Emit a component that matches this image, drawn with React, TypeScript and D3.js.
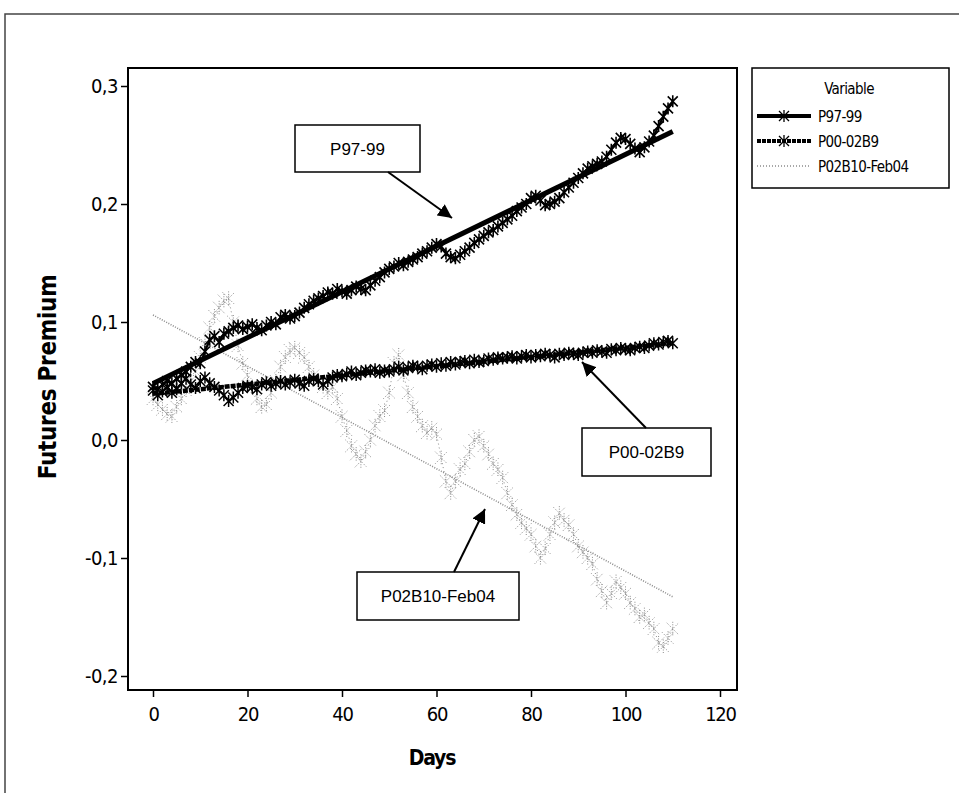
import React, { useEffect, useRef } from "react";
import * as d3 from "d3";

// Days 0..110, one reading per day
const p9799 = [
  0.045, 0.043, 0.047, 0.05, 0.048, 0.052, 0.055, 0.058, 0.062, 0.066,
  0.065, 0.075, 0.085, 0.088, 0.083, 0.09, 0.092, 0.095, 0.097, 0.094,
  0.096, 0.098, 0.095, 0.093, 0.097, 0.1, 0.098, 0.104, 0.106, 0.103,
  0.105, 0.108, 0.112, 0.115, 0.118, 0.12, 0.122, 0.125, 0.124, 0.128,
  0.126, 0.124, 0.127, 0.13, 0.128, 0.127, 0.131, 0.135, 0.138, 0.142,
  0.145, 0.147, 0.15, 0.148, 0.151, 0.153, 0.155, 0.158, 0.16, 0.163,
  0.166, 0.164, 0.158, 0.155, 0.154, 0.157, 0.16, 0.163, 0.167, 0.17,
  0.173, 0.176, 0.178, 0.181, 0.184, 0.187, 0.19, 0.194, 0.197, 0.2,
  0.205, 0.207, 0.203, 0.199, 0.2, 0.202, 0.205, 0.21, 0.214, 0.218,
  0.222, 0.226, 0.23, 0.232, 0.234, 0.236, 0.24, 0.246, 0.252, 0.256,
  0.255, 0.251, 0.247, 0.244, 0.248, 0.253, 0.258, 0.266, 0.274, 0.281,
  0.287,
];

const p0002b9 = [
  0.042, 0.038, 0.041, 0.045, 0.04, 0.043, 0.048, 0.052, 0.047, 0.044,
  0.05, 0.053, 0.048, 0.045, 0.042, 0.038, 0.033, 0.036, 0.04, 0.044,
  0.046, 0.045, 0.043, 0.047, 0.049, 0.046, 0.048, 0.05, 0.047, 0.049,
  0.051, 0.048, 0.046, 0.05, 0.052, 0.05, 0.047, 0.05, 0.053, 0.055,
  0.054, 0.056, 0.058, 0.055, 0.057, 0.059, 0.058, 0.06, 0.057, 0.059,
  0.058, 0.06, 0.062, 0.059, 0.061, 0.063, 0.062, 0.06, 0.063, 0.064,
  0.062, 0.065, 0.063, 0.066, 0.064, 0.066, 0.067, 0.065, 0.068, 0.066,
  0.067, 0.069, 0.068, 0.07, 0.069, 0.07, 0.071, 0.069, 0.071, 0.072,
  0.07, 0.072, 0.071, 0.073, 0.072, 0.07, 0.073, 0.072, 0.074, 0.073,
  0.072, 0.074, 0.075, 0.074, 0.076, 0.075, 0.074, 0.077, 0.076, 0.078,
  0.077, 0.076, 0.078, 0.079, 0.078, 0.08, 0.082, 0.081, 0.083, 0.084,
  0.082,
];

const p02b10 = [
  0.035, 0.03, 0.026, 0.022, 0.02, 0.028, 0.035, 0.042, 0.05, 0.058,
  0.07, 0.082, 0.095, 0.105, 0.112, 0.118, 0.12, 0.1, 0.08, 0.065,
  0.055, 0.045, 0.035, 0.028, 0.03, 0.04, 0.05, 0.062, 0.07, 0.076,
  0.078, 0.074, 0.07, 0.062, 0.055, 0.05, 0.045, 0.04, 0.045, 0.035,
  0.02, 0.008, -0.005, -0.012, -0.018, -0.01, 0.0, 0.012, 0.02, 0.025,
  0.04, 0.065, 0.072, 0.055, 0.04, 0.028, 0.02, 0.012, 0.006, 0.01,
  0.005, -0.015, -0.035, -0.045, -0.035, -0.025, -0.02, -0.01, 0.0, 0.003,
  -0.005, -0.012, -0.02, -0.025, -0.032, -0.045, -0.055, -0.063, -0.07, -0.075,
  -0.08, -0.09, -0.1, -0.092, -0.08, -0.07, -0.062, -0.068, -0.072, -0.08,
  -0.09, -0.095, -0.1, -0.105, -0.118, -0.128, -0.138, -0.13, -0.12, -0.125,
  -0.13, -0.138, -0.143, -0.15, -0.148, -0.155, -0.16, -0.172, -0.175, -0.168,
  -0.16,
];

const seriesNames = ["P97-99", "P00-02B9", "P02B10-Feb04"];
const xTicks = [0, 20, 40, 60, 80, 100, 120];
const yTicks = [-0.2, -0.1, 0.0, 0.1, 0.2, 0.3];

const W = 959;
const H = 793;
const frame = { left: 128, top: 68, right: 737, bottom: 690 };
const condensed = "'DejaVu Sans Condensed', 'DejaVu Sans', sans-serif";
const arial = "'Liberation Sans', Arial, sans-serif";

// least squares trend line for a daily series
function linearFit(values: number[]) {
  const xs = values.map((_, i) => i);
  const mx = d3.mean(xs) as number;
  const my = d3.mean(values) as number;
  let num = 0;
  let den = 0;
  xs.forEach((x, i) => {
    num += (x - mx) * (values[i] - my);
    den += (x - mx) * (x - mx);
  });
  const b = num / den;
  const a = my - b * mx;
  return [0, xs.length - 1].map((x) => [x, a + b * x] as [number, number]);
}

const App = () => {
  const svgRef = useRef<SVGSVGElement>(null);

  useEffect(() => {
    const svg = d3.select(svgRef.current);
    svg.selectAll("*").remove();

    const x = d3.scaleLinear().domain([0, 120]).range([153, 720]);
    const y = d3.scaleLinear().domain([-0.2, 0.3]).range([676, 86]);
    const fmt = (v: number) => d3.format(".1f")(v).replace(".", ",").replace("\u2212", "-");

    // outer page frame
    svg
      .append("rect")
      .attr("x", 5)
      .attr("y", 14)
      .attr("width", W + 20)
      .attr("height", H + 20)
      .attr("fill", "none")
      .attr("stroke", "#444")
      .attr("stroke-width", 1.5);

    const line = d3
      .line<number>()
      .x((_, i) => x(i))
      .y((d) => y(d));
    const trend = d3
      .line<[number, number]>()
      .x((d) => x(d[0]))
      .y((d) => y(d[1]));

    const styles = [
      { data: p9799, color: "#000", width: 2.2, dash: null, trendW: 5, trendDash: null, mark: 1.6, markDash: null, r: 5 },
      { data: p0002b9, color: "#000", width: 2.2, dash: "3,1", trendW: 4.5, trendDash: "5,1", mark: 1.5, markDash: null, r: 5 },
      { data: p02b10, color: "#8c8c8c", width: 1, dash: "1,3", trendW: 1.6, trendDash: "1,1.5", mark: 1, markDash: "1,1.5", r: 6 },
    ];

    const plot = svg.append("g");

    // draw in reverse so the black series sit on top
    [...styles].reverse().forEach((s) => {
      const g = plot.append("g");
      g.append("path")
        .datum(s.data)
        .attr("d", line)
        .attr("fill", "none")
        .attr("stroke", s.color)
        .attr("stroke-width", s.width)
        .attr("stroke-dasharray", s.dash);

      const r = s.r;
      g.selectAll("path.mark")
        .data(s.data)
        .join("path")
        .attr("class", "mark")
        .attr("d", (d, i) => {
          const cx = x(i);
          const cy = y(d);
          return `M${cx - r},${cy - r}L${cx + r},${cy + r}M${cx - r},${cy + r}L${cx + r},${cy - r}M${cx},${cy - r - 1}L${cx},${cy + r + 1}`;
        })
        .attr("fill", "none")
        .attr("stroke", s.color)
        .attr("stroke-width", s.mark)
        .attr("stroke-dasharray", s.markDash);

      g.append("path")
        .datum(linearFit(s.data))
        .attr("d", trend)
        .attr("fill", "none")
        .attr("stroke", s.color)
        .attr("stroke-width", s.trendW)
        .attr("stroke-dasharray", s.trendDash);
    });

    // plot frame
    svg
      .append("rect")
      .attr("x", frame.left)
      .attr("y", frame.top)
      .attr("width", frame.right - frame.left)
      .attr("height", frame.bottom - frame.top)
      .attr("fill", "none")
      .attr("stroke", "#000")
      .attr("stroke-width", 2);

    // y axis
    const yAxis = svg
      .append("g")
      .attr("transform", `translate(${frame.left},0)`)
      .call(d3.axisLeft(y).tickValues(yTicks).tickFormat(fmt as any).tickSize(7).tickPadding(3));
    yAxis.select(".domain").remove();
    yAxis.selectAll("line").attr("stroke", "#000").attr("stroke-width", 1.5);
    yAxis
      .selectAll("text")
      .attr("font-family", condensed)
      .attr("font-size", 20)
      .attr("letter-spacing", -0.5)
      .attr("fill", "#000");

    // x axis
    const xAxis = svg
      .append("g")
      .attr("transform", `translate(0,${frame.bottom})`)
      .call(d3.axisBottom(x).tickValues(xTicks).tickFormat(d3.format("d") as any).tickSize(7).tickPadding(10));
    xAxis.select(".domain").remove();
    xAxis.selectAll("line").attr("stroke", "#000").attr("stroke-width", 1.5);
    xAxis
      .selectAll("text")
      .attr("font-family", condensed)
      .attr("font-size", 20)
      .attr("letter-spacing", -1.2)
      .attr("fill", "#000");

    // axis titles
    svg
      .append("text")
      .attr("x", 432)
      .attr("y", 765)
      .attr("text-anchor", "middle")
      .attr("font-family", condensed)
      .attr("font-weight", "bold")
      .attr("font-size", 21)
      .attr("letter-spacing", -1.2)
      .text("Days");
    svg
      .append("text")
      .attr("transform", `translate(56,377) rotate(-90)`)
      .attr("text-anchor", "middle")
      .attr("font-family", condensed)
      .attr("font-weight", "bold")
      .attr("font-size", 24)
      .attr("letter-spacing", -0.3)
      .text("Futures Premium");

    // legend
    const leg = svg.append("g");
    leg
      .append("rect")
      .attr("x", 752)
      .attr("y", 68)
      .attr("width", 197)
      .attr("height", 120)
      .attr("fill", "#fff")
      .attr("stroke", "#000")
      .attr("stroke-width", 1.5);
    leg
      .append("text")
      .attr("x", 849)
      .attr("y", 94)
      .attr("text-anchor", "middle")
      .attr("font-family", condensed)
      .attr("font-size", 15)
      .attr("letter-spacing", -0.6)
      .text("Variable");
    seriesNames.forEach((name, i) => {
      const s = styles[i];
      const ly = 116 + i * 25;
      leg
        .append("line")
        .attr("x1", 757)
        .attr("x2", 811)
        .attr("y1", ly)
        .attr("y2", ly)
        .attr("stroke", s.color)
        .attr("stroke-width", i === 2 ? 1.4 : 4)
        .attr("stroke-dasharray", i === 0 ? null : i === 1 ? "4,1" : "1,2");
      if (i < 2) {
        leg
          .append("path")
          .attr("d", `M779,${ly - 5}L789,${ly + 5}M779,${ly + 5}L789,${ly - 5}M784,${ly - 6}L784,${ly + 6}`)
          .attr("stroke", "#000")
          .attr("stroke-width", 1.3);
      }
      leg
        .append("text")
        .attr("x", 818)
        .attr("y", ly + 6)
        .attr("font-family", condensed)
        .attr("font-size", 15)
        .attr("letter-spacing", -0.6)
        .text(name);
    });

    // annotations: box, label, arrow
    svg
      .append("defs")
      .append("marker")
      .attr("id", "arrowhead")
      .attr("viewBox", "0 0 10 10")
      .attr("refX", 10)
      .attr("refY", 5)
      .attr("markerWidth", 7)
      .attr("markerHeight", 7)
      .attr("markerUnits", "strokeWidth")
      .attr("orient", "auto")
      .append("path")
      .attr("d", "M0,0L10,5L0,10Z")
      .attr("fill", "#000");

    const notes = [
      { label: seriesNames[0], box: [295, 125, 125, 47], from: [388, 172], to: [452, 218] },
      { label: seriesNames[1], box: [582, 428, 129, 48], from: [646, 428], to: [582, 362] },
      { label: seriesNames[2], box: [357, 572, 162, 48], from: [454, 572], to: [485, 509] },
    ];
    notes.forEach((n) => {
      const [bx, by, bw, bh] = n.box;
      svg
        .append("rect")
        .attr("x", bx)
        .attr("y", by)
        .attr("width", bw)
        .attr("height", bh)
        .attr("fill", "#fff")
        .attr("stroke", "#000")
        .attr("stroke-width", 1.5);
      svg
        .append("text")
        .attr("x", bx + bw / 2)
        .attr("y", by + bh / 2 + 6)
        .attr("text-anchor", "middle")
        .attr("font-family", arial)
        .attr("font-size", 17)
        .text(n.label);
      svg
        .append("line")
        .attr("x1", n.from[0])
        .attr("y1", n.from[1])
        .attr("x2", n.to[0])
        .attr("y2", n.to[1])
        .attr("stroke", "#000")
        .attr("stroke-width", 2)
        .attr("marker-end", "url(#arrowhead)");
    });
  }, []);

  return (
    <div style={{ position: "fixed", left: 0, top: 0 }}>
      <svg ref={svgRef} width={W} height={H} style={{ display: "block", background: "#fff" }} />
    </div>
  );
};

export default App;
